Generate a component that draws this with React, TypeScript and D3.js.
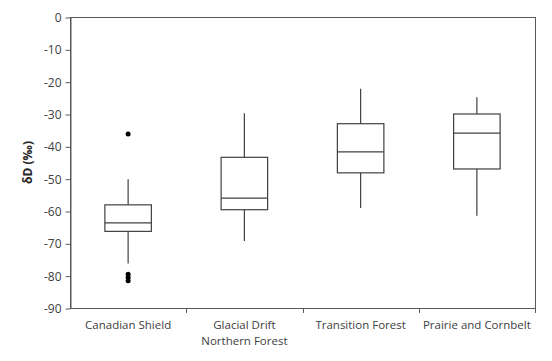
import React, { useEffect, useRef } from 'react';
import * as d3 from 'd3';

// regions along the x axis (labels may wrap onto a second line)
const categories = ['Canadian Shield', 'Glacial Drift\nNorthern Forest', 'Transition Forest', 'Prairie and Cornbelt'];
const whiskerLow = [-76.2, -69.3, -59.1, -61.5];
const q1 = [-66.3, -59.6, -48.2, -47.0];
const median = [-63.7, -56.0, -41.7, -35.9];
const q3 = [-58.1, -43.4, -33.0, -30.0];
const whiskerHigh = [-50.2, -29.8, -22.2, -24.8];
// outliers: [category index, value]
const outliers: [number, number][] = [[0, -36.2], [0, -79.6], [0, -80.6], [0, -81.6]];
const yTicks = [0, -10, -20, -30, -40, -50, -60, -70, -80, -90];

const App: React.FC = () => {
  const svgRef = useRef<SVGSVGElement>(null);

  useEffect(() => {
    if (!svgRef.current) return;
    const svg = d3.select(svgRef.current);
    svg.selectAll('*').remove();

    const width = 552;
    const height = 361;
    const margin = { top: 17, right: 17, bottom: 53, left: 70 };
    const axisColor = '#595959';
    const font = '"Open Sans", sans-serif';

    const x = d3.scaleBand<number>()
      .domain(categories.map((_, i) => i))
      .range([margin.left, width - margin.right]);
    const y = d3.scaleLinear()
      .domain([-90, 0])
      .range([height - margin.bottom, margin.top]);

    svg.attr('width', width).attr('height', height).style('font-family', font);

    // frame
    svg.append('rect')
      .attr('x', margin.left + 0.5)
      .attr('y', margin.top + 0.5)
      .attr('width', width - margin.right - margin.left)
      .attr('height', y(-90) - margin.top)
      .attr('fill', 'none')
      .attr('stroke', axisColor)
      .attr('stroke-width', 1);

    // y axis (plain hyphen minus like the original)
    const yAxis = svg.append('g')
      .attr('transform', `translate(${margin.left + 0.5},0.5)`)
      .call(d3.axisLeft(y).tickValues(yTicks).tickSize(5).tickSizeOuter(0).tickFormat(d => String(d)));
    yAxis.select('.domain').attr('stroke', axisColor);
    yAxis.selectAll('.tick line').attr('stroke', axisColor);
    yAxis.selectAll('.tick text')
      .attr('fill', '#404040')
      .attr('font-size', 12)
      .attr('font-family', font)
      .attr('x', -9);

    // x axis ticks at band boundaries
    const boundaries = categories.map((_, i) => (x(i) as number) + x.bandwidth());
    svg.append('g').selectAll('line')
      .data(boundaries)
      .enter()
      .append('line')
      .attr('x1', d => Math.round(d) + 0.5)
      .attr('x2', d => Math.round(d) + 0.5)
      .attr('y1', y(-90))
      .attr('y2', y(-90) + 5)
      .attr('stroke', axisColor);

    // x labels, one text per line
    const labelLines = categories.flatMap((c, i) => c.split('\n').map((line, k) => ({ i, k, line })));
    svg.append('g').selectAll('text')
      .data(labelLines)
      .enter()
      .append('text')
      .attr('x', d => (x(d.i) as number) + x.bandwidth() / 2)
      .attr('y', d => y(-90) + 21 + d.k * 15.8)
      .attr('text-anchor', 'middle')
      .attr('font-size', 11.5)
      .attr('fill', '#404040')
      .text(d => d.line);

    // y label
    svg.append('text')
      .attr('transform', `translate(32,${(margin.top + y(-90)) / 2}) rotate(-90)`)
      .attr('text-anchor', 'middle')
      .attr('font-size', 12)
      .attr('font-weight', 'bold')
      .attr('fill', '#262626')
      .text('δD (‰)');

    // boxes
    const boxW = x.bandwidth() * 0.4;
    const g = svg.append('g').attr('stroke', '#404040').attr('stroke-width', 1.2).attr('fill', 'none');
    categories.forEach((_, i) => {
      const cx = (x(i) as number) + x.bandwidth() / 2;
      g.append('line').attr('x1', cx).attr('x2', cx).attr('y1', y(whiskerHigh[i])).attr('y2', y(q3[i]));
      g.append('line').attr('x1', cx).attr('x2', cx).attr('y1', y(q1[i])).attr('y2', y(whiskerLow[i]));
      g.append('rect')
        .attr('x', cx - boxW / 2)
        .attr('y', y(q3[i]))
        .attr('width', boxW)
        .attr('height', y(q1[i]) - y(q3[i]));
      g.append('line')
        .attr('x1', cx - boxW / 2).attr('x2', cx + boxW / 2)
        .attr('y1', y(median[i])).attr('y2', y(median[i]));
    });

    svg.append('g').selectAll('circle')
      .data(outliers)
      .enter()
      .append('circle')
      .attr('cx', d => (x(d[0]) as number) + x.bandwidth() / 2)
      .attr('cy', d => y(d[1]))
      .attr('r', 2.5)
      .attr('fill', '#000');
  }, []);

  return <svg ref={svgRef} style={{ display: 'block', margin: -8 }}></svg>;
};

export default App;
